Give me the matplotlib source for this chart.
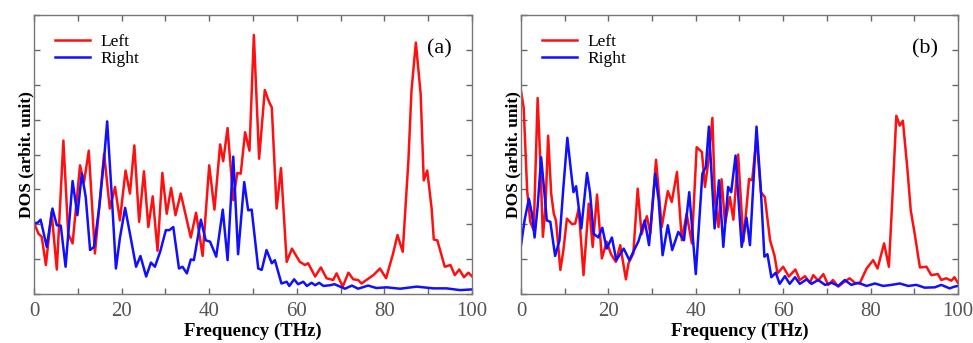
import numpy as np
import matplotlib.pyplot as plt
from matplotlib.ticker import MultipleLocator, NullFormatter

# ---------------------------------------------------------------------------
# values (frequency in THz, DOS arbit. unit)
# ---------------------------------------------------------------------------

# panel (a), Left
freq_a_left = [0, 1, 1.75, 2.7, 4, 5.2, 6.7, 7.8, 8.8, 10.5, 11.4, 12.5, 13.9, 16, 17.3,
               18.5, 19.6, 20.9, 21.9, 22.9, 24, 25.1, 26.1, 27.1, 28.2, 29.3, 30.3, 31.3,
               32.3, 33.5, 35.8, 37, 38.5, 40, 41.2, 42.5, 43.2, 44.2, 45.5, 46.4, 47.2,
               48.2, 49.2, 50.2, 51.4, 52.7, 53.7, 54.3, 55.4, 56.4, 57.7, 58.9, 60.7, 61.9,
               62.6, 64.2, 65.5, 66.8, 68.3, 69.1, 70.5, 71.8, 72.9, 74, 74.8, 75.9, 77.5,
               79, 80.4, 82, 83, 84.2, 85.5, 86.2, 87.2, 88.3, 89, 89.8, 90.8, 91.3, 92.1,
               93.8, 95.1, 96.1, 97.1, 98.2, 99.2, 100]
dos_a_left = [2.04, 1.73, 1.64, 0.83, 2.35, 0.70, 4.4, 1.73, 1.45, 3.69, 3.2, 4.11, 1.16, 4.02, 2.45,
              3.07, 2.11, 3.54, 2.88, 4.26, 2.07, 3.52, 1.92, 2.8, 1.24, 3.47, 2.30, 3.04,
              2.26, 2.88, 1.62, 2.33, 1.09, 3.69, 2.42, 4.29, 3.81, 4.76, 2.69, 3.47, 3.45,
              4.64, 4.11, 7.43, 3.88, 5.85, 5.5, 5.35, 2.45, 3.61, 0.92, 1.30, 0.92, 0.83,
              0.88, 0.50, 0.76, 0.45, 0.40, 0.59, 0.21, 0.61, 0.42, 0.40, 0.30, 0.40, 0.54,
              0.73, 0.45, 1.16, 1.69, 1.21, 3.83, 5.83, 7.21, 5.73, 3.26, 3.54, 2.45, 1.56, 1.54,
              0.78, 0.83, 0.54, 0.70, 0.48, 0.61, 0.51]

# panel (a), Right
freq_a_right = [0, 0.8, 1.5, 2.9, 4.2, 5.2, 6.1, 7.2, 8.8, 9.9, 10.9, 11.8, 12.8, 13.7, 14.9,
                16, 16.7, 17.7, 18.7, 19.6, 20.8, 21.9, 23.3, 24.3, 25.6, 26.7, 27.6, 28.8,
                30.1, 30.9, 31.8, 33.1, 33.9, 34.9, 35.8, 36.5, 38.1, 39.2, 40.2, 41.6, 43.1,
                44.2, 45.5, 46.6, 48, 48.9, 49.7, 51.2, 52, 53.1, 54.3, 55, 56.5, 57.7, 58.3,
                59.4, 60.3, 61.5, 62.3, 63.4, 64.2, 65.1, 66.1, 67.6, 68.6, 71, 72.6, 74,
                76.3, 78.2, 80.5, 83.6, 87.4, 91.2, 94.2, 97.3, 100]
dos_a_right = [2.04, 2.04, 2.13, 1.35, 2.45, 1.97, 1.96, 0.78, 3.24, 2.26, 3.45, 2.78, 1.26, 1.35, 2.50,
               3.88, 4.95, 2.92, 0.73, 1.60, 2.47, 1.73, 0.78, 1.09, 0.50, 0.90, 0.78, 1.21,
               1.83, 1.83, 1.92, 0.73, 0.78, 0.59, 0.99, 0.97, 2.13, 1.54, 1.50, 1.07, 2.42,
               0.97, 3.94, 1.14, 3.21, 2.40, 2.42, 0.73, 0.69, 1.26, 0.88, 0.97, 0.30, 0.35, 0.23,
               0.42, 0.28, 0.35, 0.23, 0.32, 0.25, 0.32, 0.23, 0.25, 0.28, 0.15, 0.24, 0.15,
               0.24, 0.17, 0.19, 0.15, 0.21, 0.16, 0.16, 0.11, 0.13]

# panel (b), Left
freq_b_left = [0, 0.6, 1.4, 2.1, 2.9, 3.8, 4.4, 5, 5.6, 6.2, 6.9, 7.5, 8, 9, 9.7, 10.5, 11.7,
               12.4, 13.2, 14.3, 15.5, 16.4, 17.4, 18.5, 19.6, 20.6, 21.7, 22.7, 24, 24.6,
               25.7, 26.7, 27.6, 28.8, 29.6, 30.9, 32.2, 33.6, 34.5, 35.7, 36.8, 37.9, 39.1,
               40.2, 41.4, 42.1, 43, 43.8, 44.4, 45.2, 45.9, 46.7, 47.8, 48.6, 49.7, 50.9,
               52.2, 52.9, 53.9, 54.9, 55.8, 57, 58, 58.7, 60, 61.3, 62.8, 63.8, 65, 66.1,
               66.9, 68, 69.2, 70.3, 71.4, 72.6, 73.7, 75.2, 76.4, 77.5, 79.1, 80.6, 81.6,
               83.1, 84.2, 84.9, 85.9, 86.7, 87.4, 88.4, 89.2, 90.1, 91.3, 92.8, 93.9, 95.4,
               96.2, 97.3, 98.5, 99.2, 100]
dos_b_left = [5.81, 5.35, 2.97, 2.07, 1.83, 5.62, 3.83, 1.64, 2.50, 4.54, 2.88, 2.30, 2.11, 0.69, 1.26,
              2.16, 2.00, 2.02, 2.45, 0.54, 2.59, 1.35, 2.85, 1.02, 1.50, 1.14, 0.92, 1.40, 0.42,
              0.88, 1.16, 3.02, 1.71, 2.23, 1.73, 3.85, 1.92, 2.95, 2.64, 3.50, 1.54, 2.30, 1.45,
              4.21, 4.07, 3.07, 3.92, 5.05, 2.69, 1.92, 3.29, 2.02, 2.78, 2.13, 4.00, 1.50,
              3.30, 3.26, 4.48, 2.92, 2.78, 1.54, 1.11, 0.59, 0.78, 0.50, 0.70, 0.40, 0.51, 0.32,
              0.54, 0.38, 0.57, 0.26, 0.40, 0.21, 0.32, 0.45, 0.32, 0.30, 0.73, 0.97, 0.73,
              1.45, 0.78, 2.50, 5.11, 4.83, 4.97, 3.64, 2.40, 1.73, 0.76, 0.78, 0.54, 0.57,
              0.40, 0.45, 0.38, 0.48, 0.32]

# panel (b), Right
freq_b_right = [0, 0.8, 1.8, 2.5, 3.1, 3.8, 4.6, 5.3, 5.9, 6.7, 7.8, 8.8, 9.7, 10.6, 11.5, 12,
                12.6, 13.8, 15.1, 15.8, 16.6, 17.7, 18.6, 19.6, 20.8, 21.8, 23.5, 24.8, 25.7,
                26.9, 28.3, 29.3, 30.7, 31.5, 32.4, 33.6, 34.6, 36, 37.3, 38.5, 40, 41.5, 42.3,
                43, 44.3, 45.3, 46.3, 47.4, 48.1, 49.1, 50.5, 51.6, 52.4, 53.9, 54.9, 55.7,
                56.4, 57.3, 58.3, 59.2, 60.4, 61.5, 62.7, 63.8, 65.4, 66.5, 68, 69.6, 71.1,
                72.6, 74.1, 75.6, 77.2, 79.1, 81, 82.9, 84.8, 86.7, 88.6, 90.5, 92.4, 94.7,
                96.2, 98.1, 99.2, 100]
dos_b_right = [1.40, 2.11, 2.73, 2.30, 1.62, 2.50, 3.92, 2.97, 2.11, 2.07, 1.09, 1.54, 3.07, 4.48, 3.45,
               2.92, 3.09, 1.88, 3.47, 2.90, 1.73, 1.62, 1.90, 1.30, 1.62, 0.97, 1.30, 0.97, 1.21,
               1.52, 2.11, 1.40, 3.45, 2.69, 1.11, 1.97, 1.26, 1.78, 1.54, 2.92, 0.57, 3.45, 3.64,
               4.80, 1.88, 3.26, 1.35, 3.07, 2.92, 3.97, 1.35, 2.19, 1.40, 4.80, 2.97, 1.07,
               1.14, 0.48, 0.61, 0.29, 0.51, 0.29, 0.48, 0.29, 0.42, 0.29, 0.40, 0.26, 0.32,
               0.23, 0.40, 0.26, 0.32, 0.23, 0.30, 0.23, 0.26, 0.30, 0.23, 0.26, 0.18, 0.19,
               0.26, 0.16, 0.21, 0.23]

panels = [("(a)", freq_a_left, dos_a_left, freq_a_right, dos_a_right),
          ("(b)", freq_b_left, dos_b_left, freq_b_right, dos_b_right)]

plt.rcParams['font.family'] = ['Liberation Serif', 'DejaVu Serif']

fig = plt.figure(figsize=(9.73, 3.43), dpi=100)
boxes = [[0.035, 0.143, 0.450, 0.813],
         [0.5355, 0.143, 0.449, 0.813]]

for box, (tag, fl, dl, fr, dr) in zip(boxes, panels):
    ax = fig.add_axes(box)
    ax.plot(fl, dl, color='#ff1010', lw=1.8, label='Left')
    ax.plot(fr, dr, color='#1010ff', lw=1.8, label='Right')
    ax.set_xlim(0, 100)
    ax.set_ylim(0, 8)
    ax.xaxis.set_major_locator(MultipleLocator(20))
    ax.xaxis.set_minor_locator(MultipleLocator(10))
    ax.yaxis.set_major_locator(MultipleLocator(1))
    ax.yaxis.set_major_formatter(NullFormatter())
    ax.tick_params(which='both', direction='in', top=True, right=True,
                   length=4, width=1, color='#666666', labelsize=15, labelcolor='#555555',
                   pad=6)
    for sp in ax.spines.values():
        sp.set_color('#777777')
        sp.set_linewidth(1)
    ax.set_xlabel("Frequency (THz)", fontsize=13.5, fontweight='bold', labelpad=1)
    ax.set_ylabel("DOS (arbit. unit)", fontsize=12.5, fontweight='bold', labelpad=-6)
    ax.text(0.955, 0.88, tag, transform=ax.transAxes, fontsize=16, ha='right', va='center')
    ax.legend(loc='upper left', frameon=False, fontsize=12.5, handlelength=2.0,
              handletextpad=0.6, borderaxespad=0.3, labelspacing=0.05,
              bbox_to_anchor=(0.02, 0.975))

fig.savefig("out.png", dpi=100)
